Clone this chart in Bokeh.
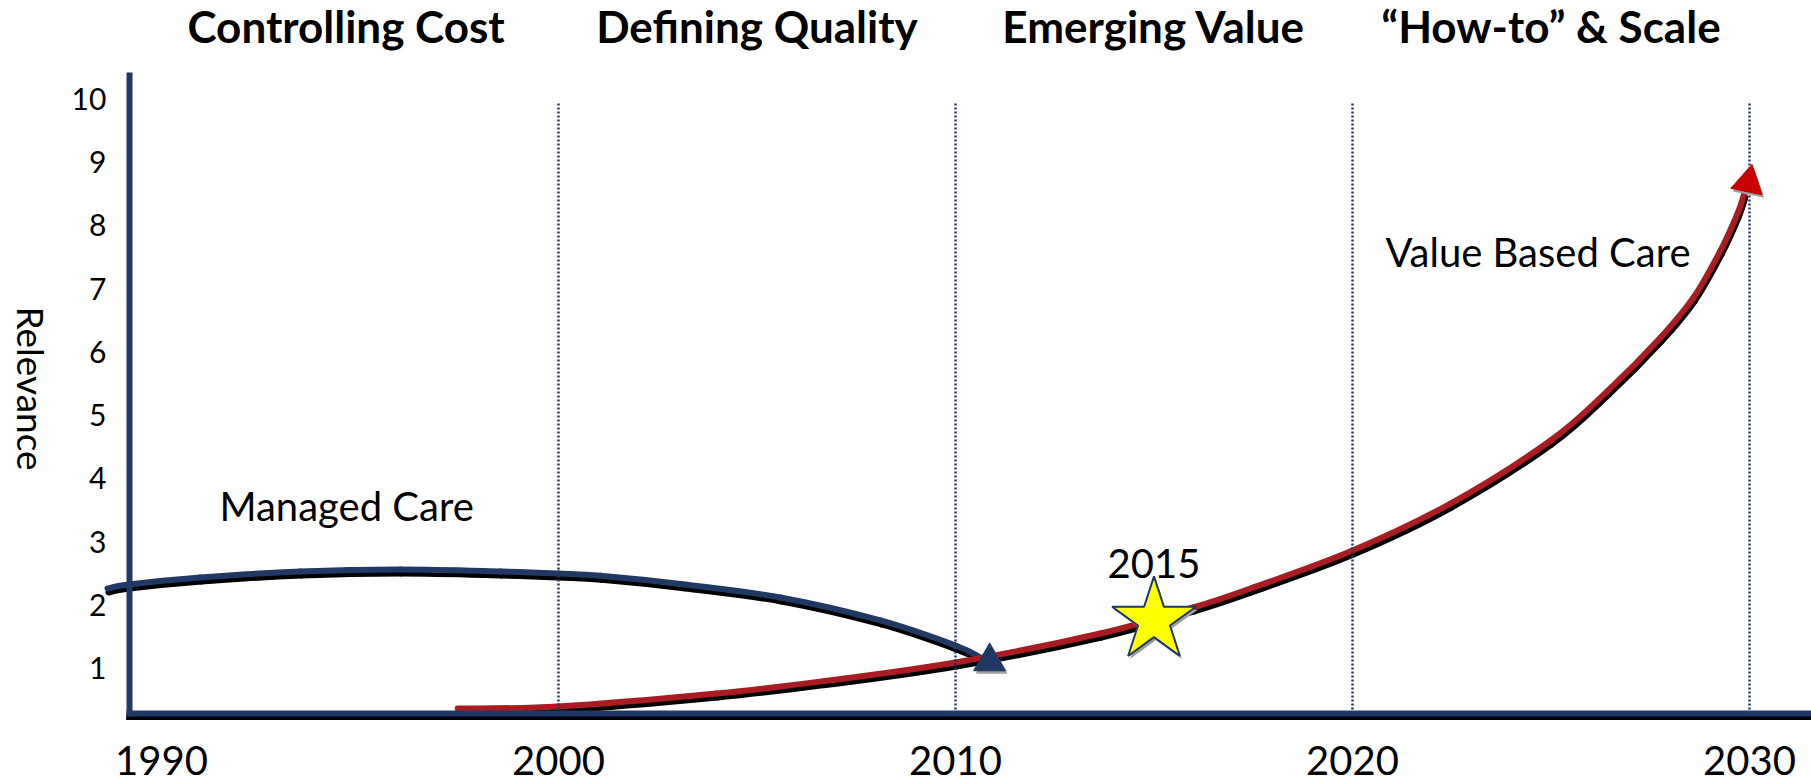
import math
from bokeh.plotting import figure
from bokeh.models import Range1d, LinearAxis, FixedTicker
from bokeh.core.properties import value
from bokeh.embed import file_html
from bokeh.resources import INLINE

# ---------------- data ----------------
YEAR_TICKS = [1990, 2000, 2010, 2020, 2030]
DECADE_LINES = [2000, 2010, 2020, 2030]
RELEVANCE_TICKS = [1, 2, 3, 4, 5, 6, 7, 8, 9, 10]

ERA_LABELS = ["Controlling Cost", "Defining Quality", "Emerging Value", "\u201cHow-to\u201d & Scale"]
ERA_X = [1994.65, 2005, 2015, 2025]
ERA_Y = [11.15, 11.15, 11.15, 11.15]

MANAGED_X = [1988.64, 1989.17, 1990.98, 1993.50, 1996.02, 1998.54, 2000.00,
             2001.06, 2003.07, 2005.59, 2008.11, 2010.00, 2010.63]
MANAGED_Y = [2.263, 2.326, 2.437, 2.532, 2.563, 2.532, 2.500,
             2.465, 2.335, 2.121, 1.758, 1.363, 1.174]
MANAGED_HEAD_X = [2010.86]
MANAGED_HEAD_Y = [1.11]

VALUE_X = [1997.46, 2000.0, 2003.98, 2006.68, 2010.0, 2013.65, 2015.99, 2017.43,
           2020.0, 2022.47, 2024.99, 2026.42, 2027.76, 2028.59, 2029.27, 2029.70, 2029.87]
VALUE_Y = [0.368, 0.40, 0.605, 0.800, 1.095, 1.553, 1.963, 2.263,
           2.863, 3.605, 4.600, 5.380, 6.227, 6.858, 7.600, 8.185, 8.50]
VALUE_HEAD_X = [2029.97]
VALUE_HEAD_Y = [8.674]

MILESTONE_X = [2015]
MILESTONE_Y = [1.76]
MILESTONE_LABEL = ["2015"]
MILESTONE_LABEL_Y = [2.66]

CURVE_LABELS = ["Managed Care", "Value Based Care"]
CURVE_LABEL_X = [1991.46, 2020.83]
CURVE_LABEL_Y = [3.57, 7.57]

Y_TITLE = "Relevance"
Y_TITLE_X = [1986.72]
Y_TITLE_Y = [5.42]

# ---------------- layout ----------------
W, H = 1811, 784
X0, X1 = 1985.945, 2031.562
Y0, Y1 = -0.832, 11.548
PXX = W / (X1 - X0)
PXY = H / (Y1 - Y0)

AXIS_X = 1989.19   # where the vertical axis sits
AXIS_Y = 0.29      # where the horizontal axis sits
GRID_TOP = 9.95

NAVY = "#1F3864"
RED = "#A81C22"
HEAD_RED = "#C80000"
FONT = "Lato"


def smooth(xs, ys):
    """Cubic Bezier pieces (Catmull-Rom) through the read points."""
    n = len(xs)
    out = dict(x0=[], y0=[], x1=[], y1=[], cx0=[], cy0=[], cx1=[], cy1=[])
    for i in range(n - 1):
        xa, ya = xs[max(i - 1, 0)], ys[max(i - 1, 0)]
        xb, yb = xs[i], ys[i]
        xc, yc = xs[i + 1], ys[i + 1]
        xd, yd = xs[min(i + 2, n - 1)], ys[min(i + 2, n - 1)]
        out["x0"].append(xb); out["y0"].append(yb)
        out["x1"].append(xc); out["y1"].append(yc)
        out["cx0"].append(xb + (xc - xa) / 6); out["cy0"].append(yb + (yc - ya) / 6)
        out["cx1"].append(xc - (xd - xb) / 6); out["cy1"].append(yc - (yd - yb) / 6)
    return out


p = figure(width=W, height=H, x_range=Range1d(X0, X1), y_range=Range1d(Y0, Y1),
           output_backend="svg", toolbar_location=None,
           x_axis_type=None, y_axis_type=None, min_border=0,
           outline_line_color=None, background_fill_color="white",
           border_fill_color="white")

# axes
xax = LinearAxis(fixed_location=AXIS_Y, ticker=FixedTicker(ticks=YEAR_TICKS),
                 bounds=(AXIS_X - 0.08, X1),
                 axis_line_color=NAVY, axis_line_width=6,
                 major_tick_line_color=None, minor_tick_line_color=None,
                 major_label_text_font=FONT, major_label_text_font_size="40px",
                 major_label_text_color="black", major_label_standoff=27)
p.add_layout(xax, "below")

yax = LinearAxis(fixed_location=AXIS_X, ticker=FixedTicker(ticks=RELEVANCE_TICKS),
                 bounds=(AXIS_Y - 0.045, 10.41),
                 axis_line_color=NAVY, axis_line_width=6,
                 major_tick_line_color=None, minor_tick_line_color=None,
                 major_label_text_font=FONT, major_label_text_font_size="30px",
                 major_label_text_color="black", major_label_standoff=17)
p.add_layout(yax, "left")

# axis shadow
sh = 3.5 / PXY
p.line([AXIS_X - 0.08, X1], [AXIS_Y - sh, AXIS_Y - sh], line_color="black", line_width=6)

# curves with shadows
dx = 1.0 / PXX
dy = 4.0 / PXY
m = smooth(MANAGED_X, MANAGED_Y)
ms = smooth([x + dx for x in MANAGED_X], [y - dy for y in MANAGED_Y])
v = smooth(VALUE_X, VALUE_Y)
vs = smooth([x + dx for x in VALUE_X], [y - dy for y in VALUE_Y])
p.bezier(line_color="black", line_width=6, line_cap="round", **ms)
p.bezier(line_color=NAVY, line_width=6, line_cap="round", **m)
p.bezier(line_color="black", line_width=6, line_cap="round", **vs)
p.bezier(line_color=RED, line_width=6, line_cap="round", **v)

# decade dotted lines (drawn above the curves)
p.segment(x0=DECADE_LINES, y0=[AXIS_Y] * len(DECADE_LINES),
          x1=DECADE_LINES, y1=[GRID_TOP] * len(DECADE_LINES),
          line_color=NAVY, line_width=2.5, line_dash="2 2", level="annotation")

# arrow heads (with soft grey shadow)
gx = 2.0 / PXX
gy = 3.0 / PXY
p.scatter([x + gx for x in MANAGED_HEAD_X], [y - gy for y in MANAGED_HEAD_Y], marker="triangle",
          size=32, fill_color="#A0A0A0", line_color=None, level="overlay")
p.scatter(MANAGED_HEAD_X, MANAGED_HEAD_Y, marker="triangle", size=32,
          fill_color=NAVY, line_color=NAVY, level="overlay")
p.scatter([x + gx for x in VALUE_HEAD_X], [y - gy for y in VALUE_HEAD_Y], marker="triangle",
          size=32, angle=-0.2, fill_color="#A0A0A0", line_color=None, level="overlay")
p.scatter(VALUE_HEAD_X, VALUE_HEAD_Y, marker="triangle", size=32, angle=-0.2,
          fill_color=HEAD_RED, line_color=HEAD_RED, level="overlay")

# milestone star
p.scatter([x + gx for x in MILESTONE_X], [y - gy for y in MILESTONE_Y], marker="star",
          size=88, fill_color="#A0A0A0", line_color=None, level="overlay")
p.scatter(MILESTONE_X, MILESTONE_Y, marker="star", size=88,
          fill_color="#FFFF00", line_color=NAVY, line_width=2, level="overlay")

# texts
p.text(ERA_X, ERA_Y, text=ERA_LABELS, text_font=value(FONT), text_font_style="bold",
       text_font_size="44px", text_align="center", text_baseline="alphabetic",
       text_color="black", level="overlay")
p.text(CURVE_LABEL_X, CURVE_LABEL_Y, text=CURVE_LABELS, text_font=value(FONT),
       text_font_size="40px", text_align="left", text_baseline="alphabetic",
       text_color="black", level="overlay")
p.text(MILESTONE_X, MILESTONE_LABEL_Y, text=MILESTONE_LABEL, text_font=value(FONT),
       text_font_size="40px", text_align="center", text_baseline="alphabetic",
       text_color="black", level="overlay")
p.text(Y_TITLE_X, Y_TITLE_Y, text=[Y_TITLE], text_font=value(FONT), text_font_size="37px",
       text_align="center", text_baseline="middle", angle=-math.pi / 2,
       text_color="black", level="overlay")

open("out.html", "w").write(file_html(p, INLINE))
